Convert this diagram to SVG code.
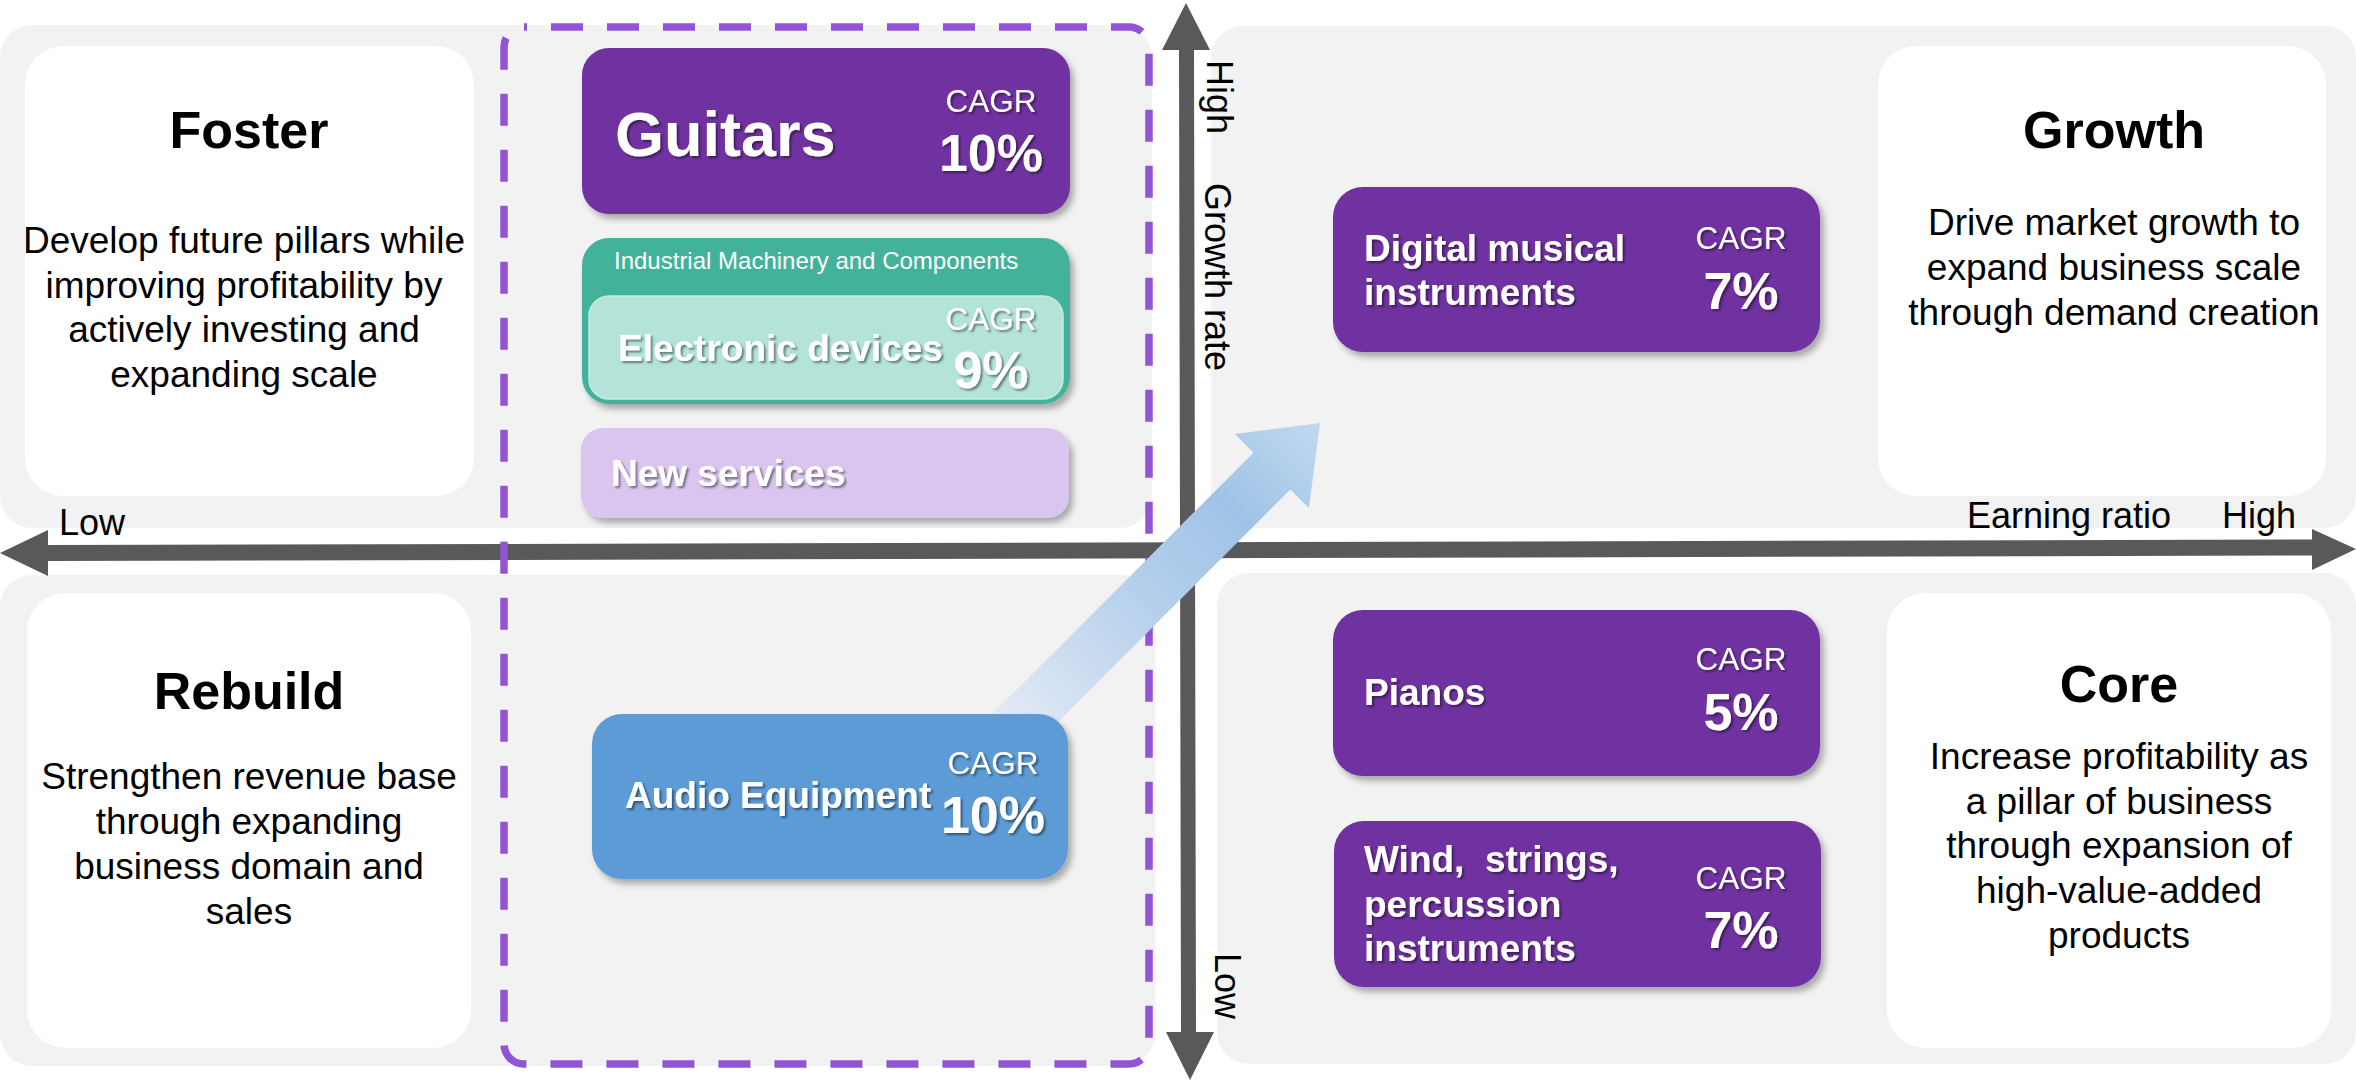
<svg xmlns="http://www.w3.org/2000/svg" width="2356" height="1081" viewBox="0 0 2356 1081">
<defs>
<filter id="boxShadow" x="-10%" y="-10%" width="125%" height="130%">
<feDropShadow dx="4" dy="5" stdDeviation="3" flood-color="#000" flood-opacity="0.3"/>
</filter>
<filter id="txtShadow" x="-10%" y="-20%" width="130%" height="150%">
<feDropShadow dx="2" dy="2" stdDeviation="1.2" flood-color="#000" flood-opacity="0.45"/>
</filter>
<linearGradient id="arrowGrad" gradientUnits="userSpaceOnUse" x1="1010" y1="733" x2="1320" y2="423">
<stop offset="0" stop-color="#E4EAF6"/>
<stop offset="0.45" stop-color="#B4CFEC"/>
<stop offset="0.72" stop-color="#9FC3E7"/>
<stop offset="1" stop-color="#C2D9EF"/>
</linearGradient>
<style>
text{font-family:"Liberation Sans",Arial,Helvetica,sans-serif;}
.quad{fill:#F2F2F2;}
.card{fill:#FFFFFF;}
.head{font-size:52px;font-weight:bold;fill:#000;text-anchor:middle;}
.body{font-size:37px;fill:#000;text-anchor:middle;}
.axis{fill:#595959;}
.axlbl{font-size:36px;fill:#000;}
.purple{fill:#7030A0;}
.wt{fill:#FFFFFF;filter:url(#txtShadow);}
.bname{font-size:37px;font-weight:bold;}
.cagr{font-size:31.5px;text-anchor:middle;}
.pct{font-size:52px;font-weight:bold;text-anchor:middle;}
</style>
</defs>

<g id="quadrants">
<rect class="quad" x="0" y="25" width="1152" height="503" rx="32"/>
<rect class="quad" x="1211" y="26" width="1145" height="502" rx="32"/>
<rect class="quad" x="0" y="575" width="1155" height="491" rx="32"/>
<rect class="quad" x="1217" y="573" width="1139" height="491" rx="32"/>
</g>

<g id="foster">
<rect class="card" x="25" y="46" width="449" height="450" rx="38"/>
<text class="head" x="249" y="148">Foster</text>
<text class="body" x="244" y="253">Develop future pillars while</text>
<text class="body" x="244" y="298">improving profitability by</text>
<text class="body" x="244" y="342">actively investing and</text>
<text class="body" x="244" y="387">expanding scale</text>
</g>

<g id="growth">
<rect class="card" x="1878" y="46" width="448" height="450" rx="38"/>
<text class="head" x="2114" y="148">Growth</text>
<text class="body" x="2114" y="235">Drive market growth to</text>
<text class="body" x="2114" y="280">expand business scale</text>
<text class="body" x="2114" y="325">through demand creation</text>
</g>

<g id="rebuild">
<rect class="card" x="27" y="593" width="444" height="455" rx="38"/>
<text class="head" x="249" y="709">Rebuild</text>
<text class="body" x="249" y="789">Strengthen revenue base</text>
<text class="body" x="249" y="834">through expanding</text>
<text class="body" x="249" y="879">business domain and</text>
<text class="body" x="249" y="924">sales</text>
</g>

<g id="core">
<rect class="card" x="1887" y="593" width="444" height="455" rx="38"/>
<text class="head" x="2119" y="702">Core</text>
<text class="body" x="2119" y="769">Increase profitability as</text>
<text class="body" x="2119" y="814">a pillar of business</text>
<text class="body" x="2119" y="858">through expansion of</text>
<text class="body" x="2119" y="903">high-value-added</text>
<text class="body" x="2119" y="948">products</text>
</g>

<g id="connectors">
<polygon class="axis" points="0,553 48,530 48,545 2312,539.5 2312,529 2356,549 2312,570 2312,555.5 48,561 48,576"/>
<polygon class="axis" points="1186,3 1210,50 1194,50 1196,1032 1214,1032 1190,1080 1166,1032 1181,1032 1179,50 1162,50"/>
</g>

<g id="axis-labels">
<text class="axlbl" x="59" y="535">Low</text>
<text class="axlbl" x="1967" y="528">Earning ratio</text>
<text class="axlbl" x="2222" y="528">High</text>
<text class="axlbl" x="1207" y="60" transform="rotate(90 1207 60)">High</text>
<text class="axlbl" x="1205" y="183" transform="rotate(90 1205 183)">Growth rate</text>
<text class="axlbl" x="1215" y="953" transform="rotate(90 1215 953)">Low</text>
</g>

<g id="focus-area">
<rect x="504" y="27" width="645" height="1037" rx="20" fill="none" stroke="#9254D4" stroke-width="7.5" stroke-dasharray="32 24" stroke-dashoffset="29"/>
</g>

<g id="growth-arrow">
<polygon fill="url(#arrowGrad)" points="991.6,714.6 1253.5,452.7 1234.9,434.1 1320,423 1308.9,508.1 1290.3,489.5 1028.4,751.4"/>
</g>

<g id="guitars">
<rect class="purple" x="582" y="48" width="488" height="166" rx="27" filter="url(#boxShadow)"/>
<text class="wt" x="615" y="156" font-size="63" font-weight="bold">Guitars</text>
<text class="wt cagr" x="991" y="112">CAGR</text>
<text class="wt pct" x="991" y="171">10%</text>
</g>

<g id="industrial">
<rect x="582" y="238" width="488" height="166" rx="27" fill="#43B39A" filter="url(#boxShadow)"/>
<text x="614" y="269" font-size="24" fill="#FFFFFF">Industrial Machinery and Components</text>
</g>

<g id="electronic">
<rect x="589" y="296" width="474" height="103" rx="20" fill="#B4E4D9" stroke="#C6EBE2" stroke-width="1.5"/>
<text class="wt bname" x="618" y="361">Electronic devices</text>
<text class="wt cagr" x="991" y="330">CAGR</text>
<text class="wt pct" x="991" y="388">9%</text>
</g>

<g id="new-services">
<rect x="581" y="428" width="488" height="90" rx="22" fill="#DAC5EF" filter="url(#boxShadow)"/>
<text class="wt bname" x="611" y="486">New services</text>
</g>

<g id="audio">
<rect x="592" y="714" width="476" height="165" rx="30" fill="#5B9BD5" filter="url(#boxShadow)"/>
<text class="wt bname" x="625" y="808">Audio Equipment</text>
<text class="wt cagr" x="993" y="774">CAGR</text>
<text class="wt pct" x="993" y="833">10%</text>
</g>

<g id="digital">
<rect class="purple" x="1333" y="187" width="487" height="165" rx="30" filter="url(#boxShadow)"/>
<text class="wt bname" x="1364" y="261">Digital musical</text>
<text class="wt bname" x="1364" y="305">instruments</text>
<text class="wt cagr" x="1741" y="249">CAGR</text>
<text class="wt pct" x="1741" y="309">7%</text>
</g>

<g id="pianos">
<rect class="purple" x="1333" y="610" width="487" height="166" rx="30" filter="url(#boxShadow)"/>
<text class="wt bname" x="1364" y="705">Pianos</text>
<text class="wt cagr" x="1741" y="670">CAGR</text>
<text class="wt pct" x="1741" y="730">5%</text>
</g>

<g id="wind">
<rect class="purple" x="1334" y="821" width="487" height="166" rx="30" filter="url(#boxShadow)"/>
<text class="wt bname" x="1364" y="872" xml:space="preserve">Wind,  strings,</text>
<text class="wt bname" x="1364" y="917">percussion</text>
<text class="wt bname" x="1364" y="961">instruments</text>
<text class="wt cagr" x="1741" y="889">CAGR</text>
<text class="wt pct" x="1741" y="948">7%</text>
</g>
</svg>
